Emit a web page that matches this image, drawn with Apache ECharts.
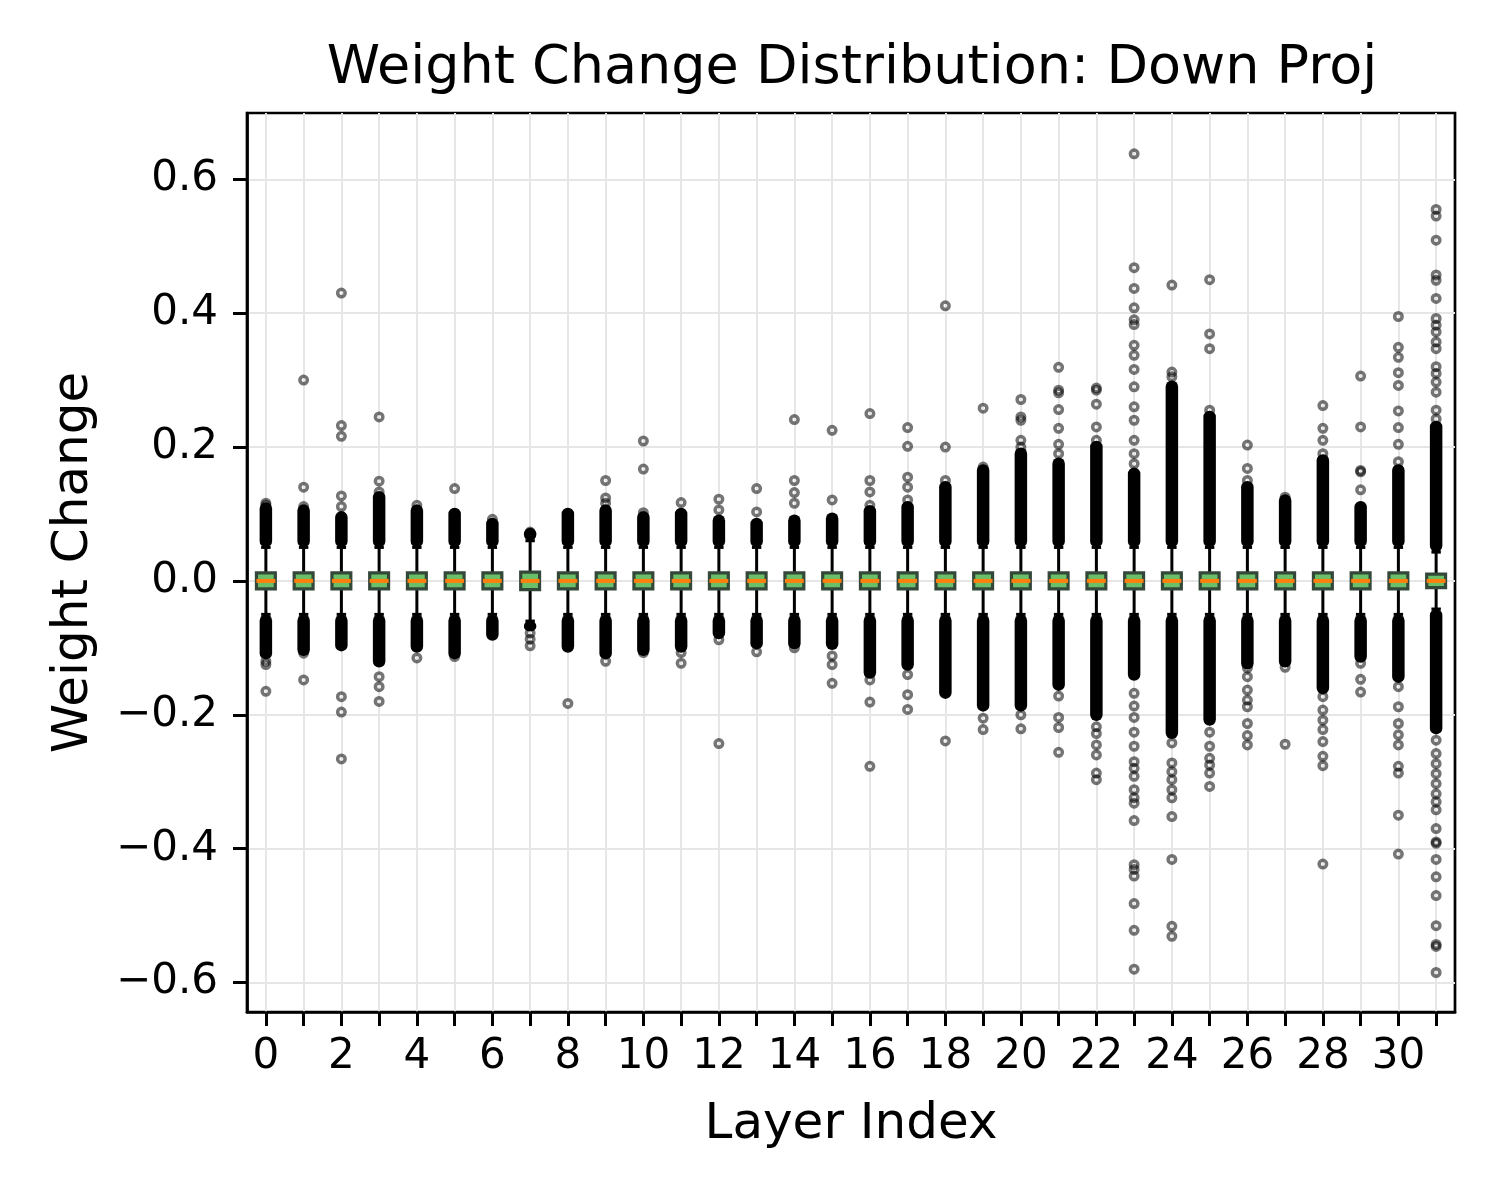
<!DOCTYPE html>
<html><head><meta charset="utf-8">
<script src="https://cdn.jsdelivr.net/npm/echarts@6/dist/echarts.min.js"></script>
<style>html,body{margin:0;background:#fff}#c{width:1500px;height:1200px}</style>
</head><body><div id="c"></div>
<script>
const layers = [0,1,2,3,4,5,6,7,8,9,10,11,12,13,14,15,16,17,18,19,20,21,22,23,24,25,26,27,28,29,30,31];
const xTickLabels = [0,2,4,6,8,10,12,14,16,18,20,22,24,26,28,30];
const yTickValues = [-0.6,-0.4,-0.2,0.0,0.2,0.4,0.6];

const q1 =      [-0.012,-0.012,-0.012,-0.012,-0.012,-0.012,-0.012,-0.013,-0.012,-0.012,-0.012,-0.012,-0.012,-0.012,-0.012,-0.012,-0.012,-0.012,-0.012,-0.012,-0.012,-0.012,-0.012,-0.012,-0.012,-0.012,-0.012,-0.012,-0.012,-0.012,-0.012,-0.010];
const medians = [0,0,0,0,0,0,0,0,0,0,0,0,0,0,0,0,0,0,0,0,0,0,0,0,0,0,0,0,0,0,0,0];
const q3 =      [0.012,0.012,0.012,0.012,0.012,0.012,0.012,0.013,0.012,0.012,0.012,0.012,0.012,0.012,0.012,0.012,0.012,0.012,0.012,0.012,0.012,0.012,0.012,0.012,0.012,0.012,0.012,0.012,0.012,0.012,0.012,0.010];
const whiskerLow =  [-0.050,-0.050,-0.050,-0.050,-0.050,-0.050,-0.050,-0.060,-0.050,-0.050,-0.050,-0.050,-0.050,-0.050,-0.050,-0.050,-0.050,-0.050,-0.050,-0.050,-0.050,-0.050,-0.050,-0.050,-0.050,-0.050,-0.050,-0.050,-0.050,-0.050,-0.050,-0.042];
const whiskerHigh = [0.050,0.050,0.050,0.050,0.050,0.050,0.050,0.060,0.050,0.050,0.050,0.050,0.050,0.050,0.050,0.050,0.050,0.050,0.050,0.050,0.050,0.050,0.050,0.050,0.050,0.050,0.050,0.050,0.050,0.050,0.050,0.043];

// extent of the solid (densely overlapping) outlier columns
const denseHigh = [0.108,0.105,0.095,0.125,0.105,0.100,0.085,0.070,0.100,0.105,0.095,0.100,0.090,0.085,0.090,0.093,0.104,0.110,0.140,0.165,0.190,0.175,0.200,0.160,0.290,0.245,0.140,0.120,0.180,0.110,0.165,0.230];
const denseLow  = [-0.108,-0.103,-0.096,-0.120,-0.098,-0.108,-0.080,-0.066,-0.098,-0.108,-0.103,-0.098,-0.078,-0.093,-0.093,-0.094,-0.137,-0.125,-0.167,-0.186,-0.186,-0.155,-0.200,-0.140,-0.227,-0.207,-0.123,-0.120,-0.160,-0.113,-0.143,-0.220];

// individually visible outliers
const outliersHigh = [
  [0.113,0.116],
  [0.111,0.140,0.300],
  [0.111,0.127,0.216,0.232,0.430],
  [0.133,0.149,0.245],
  [0.113],
  [0.138],
  [0.092],
  [0.073],
  [0.098],
  [0.116,0.124,0.150],
  [0.102,0.167,0.209],
  [0.117],
  [0.106,0.122],
  [0.103,0.138],
  [0.116,0.132,0.150,0.241],
  [0.121,0.225],
  [0.113,0.133,0.150,0.250],
  [0.121,0.140,0.155,0.201,0.229],
  [0.150,0.200,0.411],
  [0.170,0.258],
  [0.200,0.210,0.240,0.245,0.271],
  [0.190,0.204,0.228,0.256,0.281,0.285,0.319],
  [0.210,0.230,0.264,0.285,0.288],
  [0.175,0.190,0.210,0.240,0.260,0.290,0.316,0.337,0.352,0.383,0.390,0.408,0.437,0.468,0.638],
  [0.305,0.312,0.442],
  [0.255,0.347,0.369,0.450],
  [0.150,0.168,0.203],
  [0.125],
  [0.190,0.210,0.228,0.262],
  [0.136,0.163,0.165,0.230,0.306],
  [0.178,0.204,0.229,0.254,0.292,0.311,0.334,0.349,0.395],
  [0.242,0.255,0.282,0.297,0.310,0.320,0.347,0.357,0.372,0.382,0.392,0.422,0.449,0.457,0.509,0.545,0.555]
];
const outliersLow = [
  [-0.120,-0.125,-0.165],
  [-0.108,-0.148],
  [-0.173,-0.196,-0.266],
  [-0.143,-0.158,-0.180],
  [-0.115],
  [-0.113],
  [],
  [-0.078,-0.087,-0.097],
  [-0.183],
  [-0.120],
  [-0.107],
  [-0.107,-0.123],
  [-0.088,-0.243],
  [-0.106],
  [-0.100],
  [-0.112,-0.125,-0.153],
  [-0.148,-0.181,-0.277],
  [-0.140,-0.170,-0.192],
  [-0.239],
  [-0.205,-0.222],
  [-0.200,-0.221],
  [-0.172,-0.204,-0.219,-0.256],
  [-0.218,-0.228,-0.245,-0.260,-0.287,-0.297],
  [-0.168,-0.187,-0.204,-0.226,-0.247,-0.270,-0.280,-0.292,-0.312,-0.324,-0.332,-0.358,-0.424,-0.431,-0.441,-0.482,-0.522,-0.580],
  [-0.242,-0.272,-0.285,-0.297,-0.312,-0.324,-0.352,-0.416,-0.516,-0.531],
  [-0.226,-0.247,-0.265,-0.275,-0.287,-0.307],
  [-0.130,-0.143,-0.163,-0.178,-0.188,-0.213,-0.231,-0.245],
  [-0.129,-0.244],
  [-0.173,-0.193,-0.208,-0.222,-0.240,-0.262,-0.276,-0.423],
  [-0.123,-0.147,-0.166],
  [-0.158,-0.188,-0.213,-0.230,-0.245,-0.277,-0.287,-0.350,-0.408],
  [-0.238,-0.258,-0.273,-0.288,-0.303,-0.318,-0.330,-0.342,-0.370,-0.390,-0.392,-0.416,-0.442,-0.470,-0.515,-0.543,-0.546,-0.585]
];

const FONT = 'DejaVu Sans';
const boxData = layers.map((l, i) => [l, q1[i], medians[i], q3[i], whiskerLow[i], whiskerHigh[i]]);
const denseData = [];
layers.forEach((l, i) => {
  denseData.push([l, whiskerHigh[i], denseHigh[i]]);
  denseData.push([l, whiskerLow[i], denseLow[i]]);
});
const flierData = [];
layers.forEach((l, i) => {
  outliersHigh[i].forEach(v => flierData.push([l, v]));
  outliersLow[i].forEach(v => flierData.push([l, v]));
});

const chart = echarts.init(document.getElementById('c'), null, {renderer: 'canvas'});
chart.setOption({
  animation: false,
  backgroundColor: '#fff',
  title: {
    text: 'Weight Change Distribution: Down Proj',
    left: 847, top: 37, textAlign: 'center',
    textStyle: {fontFamily: FONT, fontSize: 54, fontWeight: 'normal', color: '#000'}
  },
  grid: {left: 247, right: 45, top: 113, bottom: 188, show: true, borderColor: '#000', borderWidth: 2.7, backgroundColor: 'transparent'},
  xAxis: {
    type: 'value', min: -0.5, max: 31.5,
    name: 'Layer Index', nameLocation: 'middle', nameGap: 88,
    nameTextStyle: {fontFamily: FONT, fontSize: 50, color: '#000'},
    axisLine: {show: true, onZero: false, lineStyle: {color: '#000', width: 2.7}},
    axisTick: {show: true, inside: false, customValues: layers, length: 14, lineStyle: {color: '#000', width: 3}},
    axisLabel: {customValues: xTickLabels, margin: 24, fontFamily: FONT, fontSize: 42, color: '#000'},
    splitLine: {show: true, lineStyle: {color: '#e6e6e6', width: 2}}
  },
  yAxis: {
    type: 'value', min: -0.644, max: 0.699,
    name: 'Weight Change', nameLocation: 'middle', nameGap: 148, nameRotate: 90,
    nameTextStyle: {fontFamily: FONT, fontSize: 50, color: '#000'},
    axisLine: {show: true, onZero: false, lineStyle: {color: '#000', width: 2.7}},
    axisTick: {show: true, inside: false, customValues: yTickValues, length: 14, lineStyle: {color: '#000', width: 3}},
    axisLabel: {customValues: yTickValues, margin: 29, fontFamily: FONT, fontSize: 42, color: '#000',
      formatter: v => (v < -1e-9 ? '\u2212' : '') + Math.abs(v).toFixed(1)},
    splitLine: {show: true, lineStyle: {color: '#e6e6e6', width: 2}}
  },
  series: [
    {
      type: 'custom', name: 'boxes', data: boxData, silent: true, z: 3,
      renderItem: (params, api) => {
        const x = api.value(0);
        const pQ1 = api.coord([x, api.value(1)]);
        const pMed = api.coord([x, api.value(2)]);
        const pQ3 = api.coord([x, api.value(3)]);
        const pLo = api.coord([x, api.value(4)]);
        const pHi = api.coord([x, api.value(5)]);
        const bw = api.size([0.5, 0])[0];
        const cw = api.size([0.25, 0])[0];
        const cx = pQ1[0];
        return {type: 'group', children: [
          {type: 'line', shape: {x1: cx, y1: pLo[1], x2: cx, y2: pQ1[1]}, style: {stroke: '#000', lineWidth: 3}},
          {type: 'line', shape: {x1: cx, y1: pQ3[1], x2: cx, y2: pHi[1]}, style: {stroke: '#000', lineWidth: 3}},
          {type: 'line', shape: {x1: cx - cw / 2, y1: pLo[1], x2: cx + cw / 2, y2: pLo[1]}, style: {stroke: '#000', lineWidth: 3}},
          {type: 'line', shape: {x1: cx - cw / 2, y1: pHi[1], x2: cx + cw / 2, y2: pHi[1]}, style: {stroke: '#000', lineWidth: 3}},
          {type: 'rect', shape: {x: cx - bw / 2, y: pQ3[1], width: bw, height: pQ1[1] - pQ3[1]},
            style: {fill: '#6abf69', stroke: '#34483a', lineWidth: 3.2}},
          {type: 'line', shape: {x1: cx - bw / 2, y1: pMed[1], x2: cx + bw / 2, y2: pMed[1]}, style: {stroke: '#ff7f0e', lineWidth: 4}}
        ]};
      }
    },
    {
      type: 'custom', name: 'dense', data: denseData, silent: true, z: 4,
      renderItem: (params, api) => {
        const x = api.value(0);
        const a = api.coord([x, api.value(1)]);
        const b = api.coord([x, api.value(2)]);
        const w = 12.5, r = 6.25;
        const up = b[1] < a[1];
        const y0 = up ? b[1] - r : a[1];
        const y1 = up ? a[1] : b[1] + r;
        return {type: 'rect', shape: {x: a[0] - w / 2, y: y0, width: w, height: y1 - y0, r: r},
          style: {fill: '#000'}};
      }
    },
    {
      type: 'scatter', name: 'fliers', data: flierData, silent: true, z: 5,
      symbol: 'circle', symbolSize: 7.5,
      itemStyle: {color: 'rgba(0,0,0,0)', borderColor: 'rgba(0,0,0,0.68)', borderWidth: 3.5}
    }
  ]
});
</script>
</body></html>
